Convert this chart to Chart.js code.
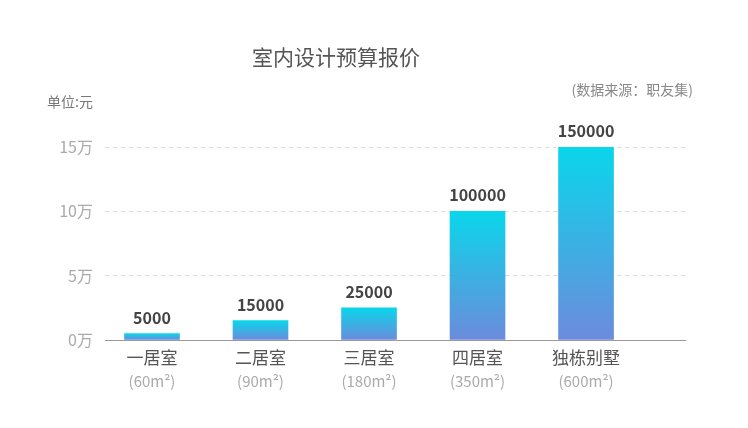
<!DOCTYPE html>
<html>
<head>
<meta charset="utf-8">
<script src="https://cdn.jsdelivr.net/npm/chart.js@4"></script>
<style>
  html, body { margin: 0; padding: 0; background: #fff; }
  #wrap { width: 748px; height: 428px; }
</style>
</head>
<body>
<div id="wrap"><canvas id="myChart" width="748" height="428"></canvas></div>
<script>
const rooms = ["一居室", "二居室", "三居室", "四居室", "独栋别墅"];
const areas = ["(60m²)", "(90m²)", "(180m²)", "(350m²)", "(600m²)"];
const prices = [5000, 15000, 25000, 100000, 150000];
const yTicks = [0, 50000, 100000, 150000];

const FONT = '"Noto Sans CJK SC", "Noto Sans", sans-serif';

const ctx = document.getElementById("myChart");

// title, unit and source text
const textPlugin = {
  id: "texts",
  afterDraw(chart) {
    const c = chart.ctx;
    c.save();
    c.textBaseline = "middle";
    c.fillStyle = "#555";
    c.font = "21px " + FONT;
    c.textAlign = "center";
    c.fillText("室内设计预算报价", 336, 57);
    c.font = "14px " + FONT;
    c.fillStyle = "#777";
    c.textAlign = "right";
    c.fillText("单位:元", 93, 102);
    c.fillStyle = "#888";
    c.fillText("(数据来源：职友集)", 693, 90);
    c.restore();
  },
};

// value labels above bars
const valuePlugin = {
  id: "values",
  afterDatasetsDraw(chart) {
    const c = chart.ctx;
    const meta = chart.getDatasetMeta(0);
    c.save();
    c.font = "bold 16px " + FONT;
    c.fillStyle = "#444";
    c.textAlign = "center";
    c.textBaseline = "bottom";
    meta.data.forEach((el, i) => {
      c.fillText(String(prices[i]), el.x, el.y - 8);
    });
    c.restore();
  },
};

new Chart(ctx, {
  type: "bar",
  data: {
    datasets: [
      {
        data: prices.map((v, i) => ({ x: i, y: v })),
        barThickness: 55,
        backgroundColor: (context) => {
          const chart = context.chart;
          if (!chart.chartArea || !context.raw) return "#0ed3ea";
          const y = chart.scales.y;
          const top = y.getPixelForValue(context.raw.y);
          const bottom = y.getPixelForValue(0);
          const g = chart.ctx.createLinearGradient(0, top, 0, bottom);
          g.addColorStop(0, "#0ad6ea");
          g.addColorStop(1, "#6c8bdc");
          return g;
        },
      },
    ],
  },
  options: {
    responsive: false,
    animation: false,
    layout: { padding: { left: 0, right: 63, top: 147, bottom: 33 } },
    scales: {
      x: {
        type: "linear",
        position: "bottom",
        offset: false,
        min: -0.433,
        max: 4.912,
        afterBuildTicks: (s) => { s.ticks = rooms.map((_, i) => ({ value: i })); },
        afterFit: (s) => { s.height = 30; },
        grid: { display: false, drawTicks: false, offset: false },
        border: { display: true, color: "#999", width: 1 },
        ticks: {
          padding: 7,
          autoSkip: false,
          maxRotation: 0,
          color: "#555",
          font: { size: 17, family: FONT },
          callback: (v) => rooms[v],
        },
      },
      x2: {
        type: "linear",
        position: "bottom",
        offset: false,
        min: -0.433,
        max: 4.912,
        afterBuildTicks: (s) => { s.ticks = areas.map((_, i) => ({ value: i })); },
        afterFit: (s) => { s.height = 25; },
        grid: { display: false, drawTicks: false, offset: false },
        border: { display: false },
        ticks: {
          padding: 2,
          autoSkip: false,
          maxRotation: 0,
          color: "#aaa",
          font: { size: 15, family: FONT },
          callback: (v) => areas[v],
        },
      },
      y: {
        min: 0,
        max: 150000,
        afterBuildTicks: (s) => { s.ticks = yTicks.map((v) => ({ value: v })); },
        afterFit: (s) => { s.width = 105; },
        border: { display: false, dash: [4, 4] },
        grid: {
          drawTicks: false,
          color: (c) => (c.tick && c.tick.value === 0 ? "rgba(0,0,0,0)" : "#ddd"),
        },
        ticks: {
          padding: 12,
          color: "#aaa",
          font: { size: 16, family: FONT },
          callback: (v) => v / 10000 + "万",
        },
      },
    },
    plugins: {
      legend: { display: false },
      tooltip: { enabled: false },
    },
  },
  plugins: [textPlugin, valuePlugin],
});
</script>
</body>
</html>
